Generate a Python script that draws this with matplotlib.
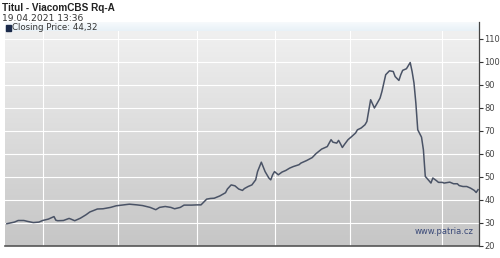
import numpy as np
import matplotlib
matplotlib.use('Agg')
import matplotlib.pyplot as plt
from matplotlib.colors import LinearSegmentedColormap
from matplotlib.lines import Line2D
from matplotlib.patches import Rectangle

# closing price (x = trading day index)
days = [0, 4, 6, 9, 11, 14, 17, 19, 22, 25, 26, 27, 30, 33, 34, 36, 39, 42, 44, 48,
        51, 55, 58, 62, 65, 69, 72, 76, 79, 81, 84, 87, 89, 92, 94, 98, 101, 103, 106, 108,
        110, 113, 116, 117, 119, 121, 123, 125, 126, 128, 130, 132, 133, 135, 137, 139, 140, 141, 142, 144,
        146, 148, 150, 152, 155, 156, 159, 162, 164, 167, 170, 172, 173, 175, 176, 177, 178, 179, 181, 183,
        185, 186, 188, 190, 191, 193, 195, 196, 198, 199, 201, 203, 205, 206, 208, 209, 210, 212, 214, 215,
        216, 217, 218, 220, 221, 222, 224, 225, 226, 228, 229, 231, 232, 235, 237, 239, 240, 242, 244, 246,
        248, 249, 250]
close = [29.5, 30.2, 30.9, 30.9, 30.5, 30.0, 30.2, 30.9, 31.5, 32.6, 31.0, 30.8, 30.9, 31.8, 31.5, 30.8, 31.9, 33.4, 34.6, 35.9,
         36.0, 36.6, 37.3, 37.7, 38.0, 37.7, 37.4, 36.6, 35.6, 36.6, 37.0, 36.6, 36.0, 36.6, 37.6, 37.6, 37.7, 37.7, 40.2, 40.5,
         40.6, 41.6, 43.0, 44.6, 46.4, 46.0, 44.6, 44.0, 44.8, 45.7, 46.4, 48.6, 52.2, 56.3, 52.2, 49.4, 48.6, 50.8, 52.2, 50.8,
         52.0, 52.7, 53.7, 54.4, 55.2, 55.9, 57.0, 58.3, 60.0, 62.0, 63.1, 66.1, 65.0, 64.6, 65.8, 64.3, 62.7, 63.9, 66.1, 67.5,
         69.0, 70.4, 71.2, 72.6, 74.0, 83.5, 79.9, 81.3, 84.2, 87.1, 94.4, 96.1, 95.8, 93.6, 91.9, 94.4, 96.3, 97.0, 99.7, 95.8,
         90.8, 82.0, 70.4, 67.2, 61.7, 50.1, 48.2, 47.2, 49.4, 48.2, 47.5, 47.5, 47.2, 47.6, 46.9, 46.9, 46.1, 45.7, 45.7, 45.0,
         44.0, 43.1, 44.32]
grid_days = [19, 59, 101, 142, 182, 231]
yticks = [20, 30, 40, 50, 60, 70, 80, 90, 100, 110]

fig = plt.figure(figsize=(5.0, 2.58), dpi=100)
fig.patch.set_facecolor('white')

ax = fig.add_axes([0.01, 0.0484, 0.948, 0.832])
ax.set_xlim(-1, 250.5)
ax.set_ylim(20, 113.5)

# gradient background
bg = LinearSegmentedColormap.from_list('bg', ['#c6c6c6', '#f0f0f0'])
grad = np.linspace(0, 1, 256).reshape(-1, 1)
ax.imshow(grad, cmap=bg, aspect='auto', origin='lower',
          extent=[-1, 250.5, 20, 113.5], zorder=0)

for y in yticks[1:]:
    ax.axhline(y, color='white', lw=0.8, zorder=1)
for d in grid_days:
    ax.axvline(d, color='white', lw=0.8, zorder=1)

ax.plot(days, close, color='#4a5366', lw=1.1, zorder=3)

ax.yaxis.tick_right()
ax.set_yticks(yticks)
ax.set_yticklabels([str(v) for v in yticks])
ax.tick_params(axis='y', direction='out', length=3, width=0.8, pad=1,
               labelsize=6, colors='#333333', labelcolor='#444444')
ax.set_xticks([])
for s in ['left', 'top', 'right']:
    ax.spines[s].set_visible(False)
ax.spines['bottom'].set_color('#555555')
ax.spines['bottom'].set_linewidth(1.2)

# right axis line runs up past the plot area
fig.add_artist(Line2D([479 / 500, 479 / 500], [1 - 22 / 258, 1 - 246 / 258],
                      color='#444444', lw=0.9))

# legend band
band = LinearSegmentedColormap.from_list('band', ['#e8f1f7', '#f7fafc'])
bax = fig.add_axes([0.01, 1 - 31 / 258, 0.948, 9 / 258])
bax.imshow(grad, cmap=band, aspect='auto', origin='lower', extent=[0, 1, 0, 1])
bax.set_xlim(0, 1)
bax.set_ylim(0, 1)
bax.axis('off')

fig.text(0.004, 1 - 8 / 258, 'Titul - ViacomCBS Rq-A', fontsize=7.2, fontweight='bold',
         family='Liberation Sans', color='#222222', va='center', ha='left')
fig.text(0.004, 1 - 18.5 / 258, '19.04.2021 13:36', fontsize=6.6, color='#333333',
         va='center', ha='left')
fig.add_artist(Rectangle((6 / 500, 1 - 30.5 / 258), 5 / 500, 5 / 258,
                         transform=fig.transFigure, color='#1b2a4a'))
fig.text(12.5 / 500, 1 - 28 / 258, 'Closing Price: 44,32', fontsize=6.2, color='#333333',
         va='center', ha='left')
fig.text(474 / 500, 1 - 232 / 258, 'www.patria.cz', fontsize=6, color='#3b4a78',
         va='center', ha='right')

plt.savefig('out.png', dpi=100)
